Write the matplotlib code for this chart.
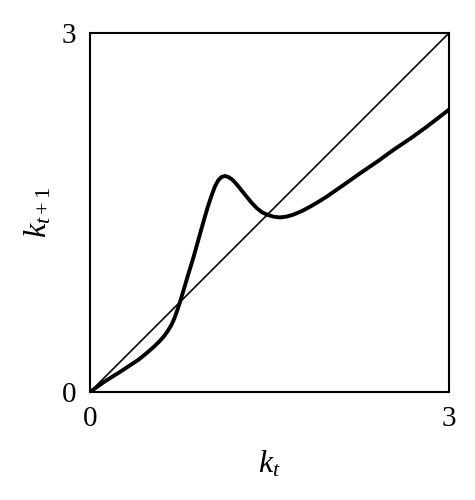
import numpy as np
import matplotlib.pyplot as plt

# values
k_t = [0.0, 0.06, 0.12, 0.19, 0.262, 0.33, 0.401, 0.47, 0.54, 0.58, 0.62, 0.652,
       0.68, 0.705, 0.73, 0.75, 0.78, 0.82, 0.863, 0.905, 0.947, 0.985, 1.017,
       1.045, 1.072, 1.1, 1.128, 1.155, 1.185, 1.211, 1.24, 1.27, 1.309, 1.35,
       1.393, 1.44, 1.49, 1.54, 1.587, 1.64, 1.699, 1.77, 1.838, 1.91, 1.977,
       2.1, 2.256, 2.4, 2.534, 2.68, 2.813, 3.0]
k_t1 = [0.0, 0.043, 0.086, 0.13, 0.175, 0.22, 0.267, 0.322, 0.384, 0.423, 0.468,
        0.513, 0.56, 0.615, 0.685, 0.745, 0.845, 0.98, 1.12, 1.27, 1.42, 1.55,
        1.645, 1.72, 1.77, 1.797, 1.805, 1.797, 1.778, 1.752, 1.718, 1.68, 1.632,
        1.582, 1.537, 1.5, 1.478, 1.464, 1.459, 1.465, 1.482, 1.512, 1.548,
        1.59, 1.632, 1.717, 1.827, 1.925, 2.022, 2.12, 2.216, 2.36]
diag = [0, 3]
tick_vals = [0, 3]
tick_labels = ["0", "3"]

plt.rcParams['font.family'] = ['Liberation Serif', 'DejaVu Serif']
plt.rcParams['mathtext.fontset'] = 'custom'
plt.rcParams['mathtext.rm'] = 'Liberation Serif'
plt.rcParams['mathtext.it'] = 'Liberation Serif:italic'

fig = plt.figure(figsize=(4.75, 5), dpi=100)
ax = fig.add_axes([0.1895, 0.216, 0.7558, 0.718])

ax.plot(diag, diag, color="black", lw=1.2)
ax.plot(k_t, k_t1, color="black", lw=2.8, solid_capstyle="round",
        solid_joinstyle="round")

ax.set_xlim(0, 3)
ax.set_ylim(0, 3)
ax.set_xticks(tick_vals)
ax.set_xticklabels(tick_labels)
ax.set_yticks(tick_vals)
ax.set_yticklabels(tick_labels)
ax.tick_params(length=0, labelsize=21, pad=10)
for s in ax.spines.values():
    s.set_linewidth(1.5)

ax.set_xlabel(r"$k_t$", fontsize=23, labelpad=12)
ax.set_ylabel(r"$k_{t+1}$", fontsize=23, labelpad=6)

plt.savefig("out.png", dpi=100)
